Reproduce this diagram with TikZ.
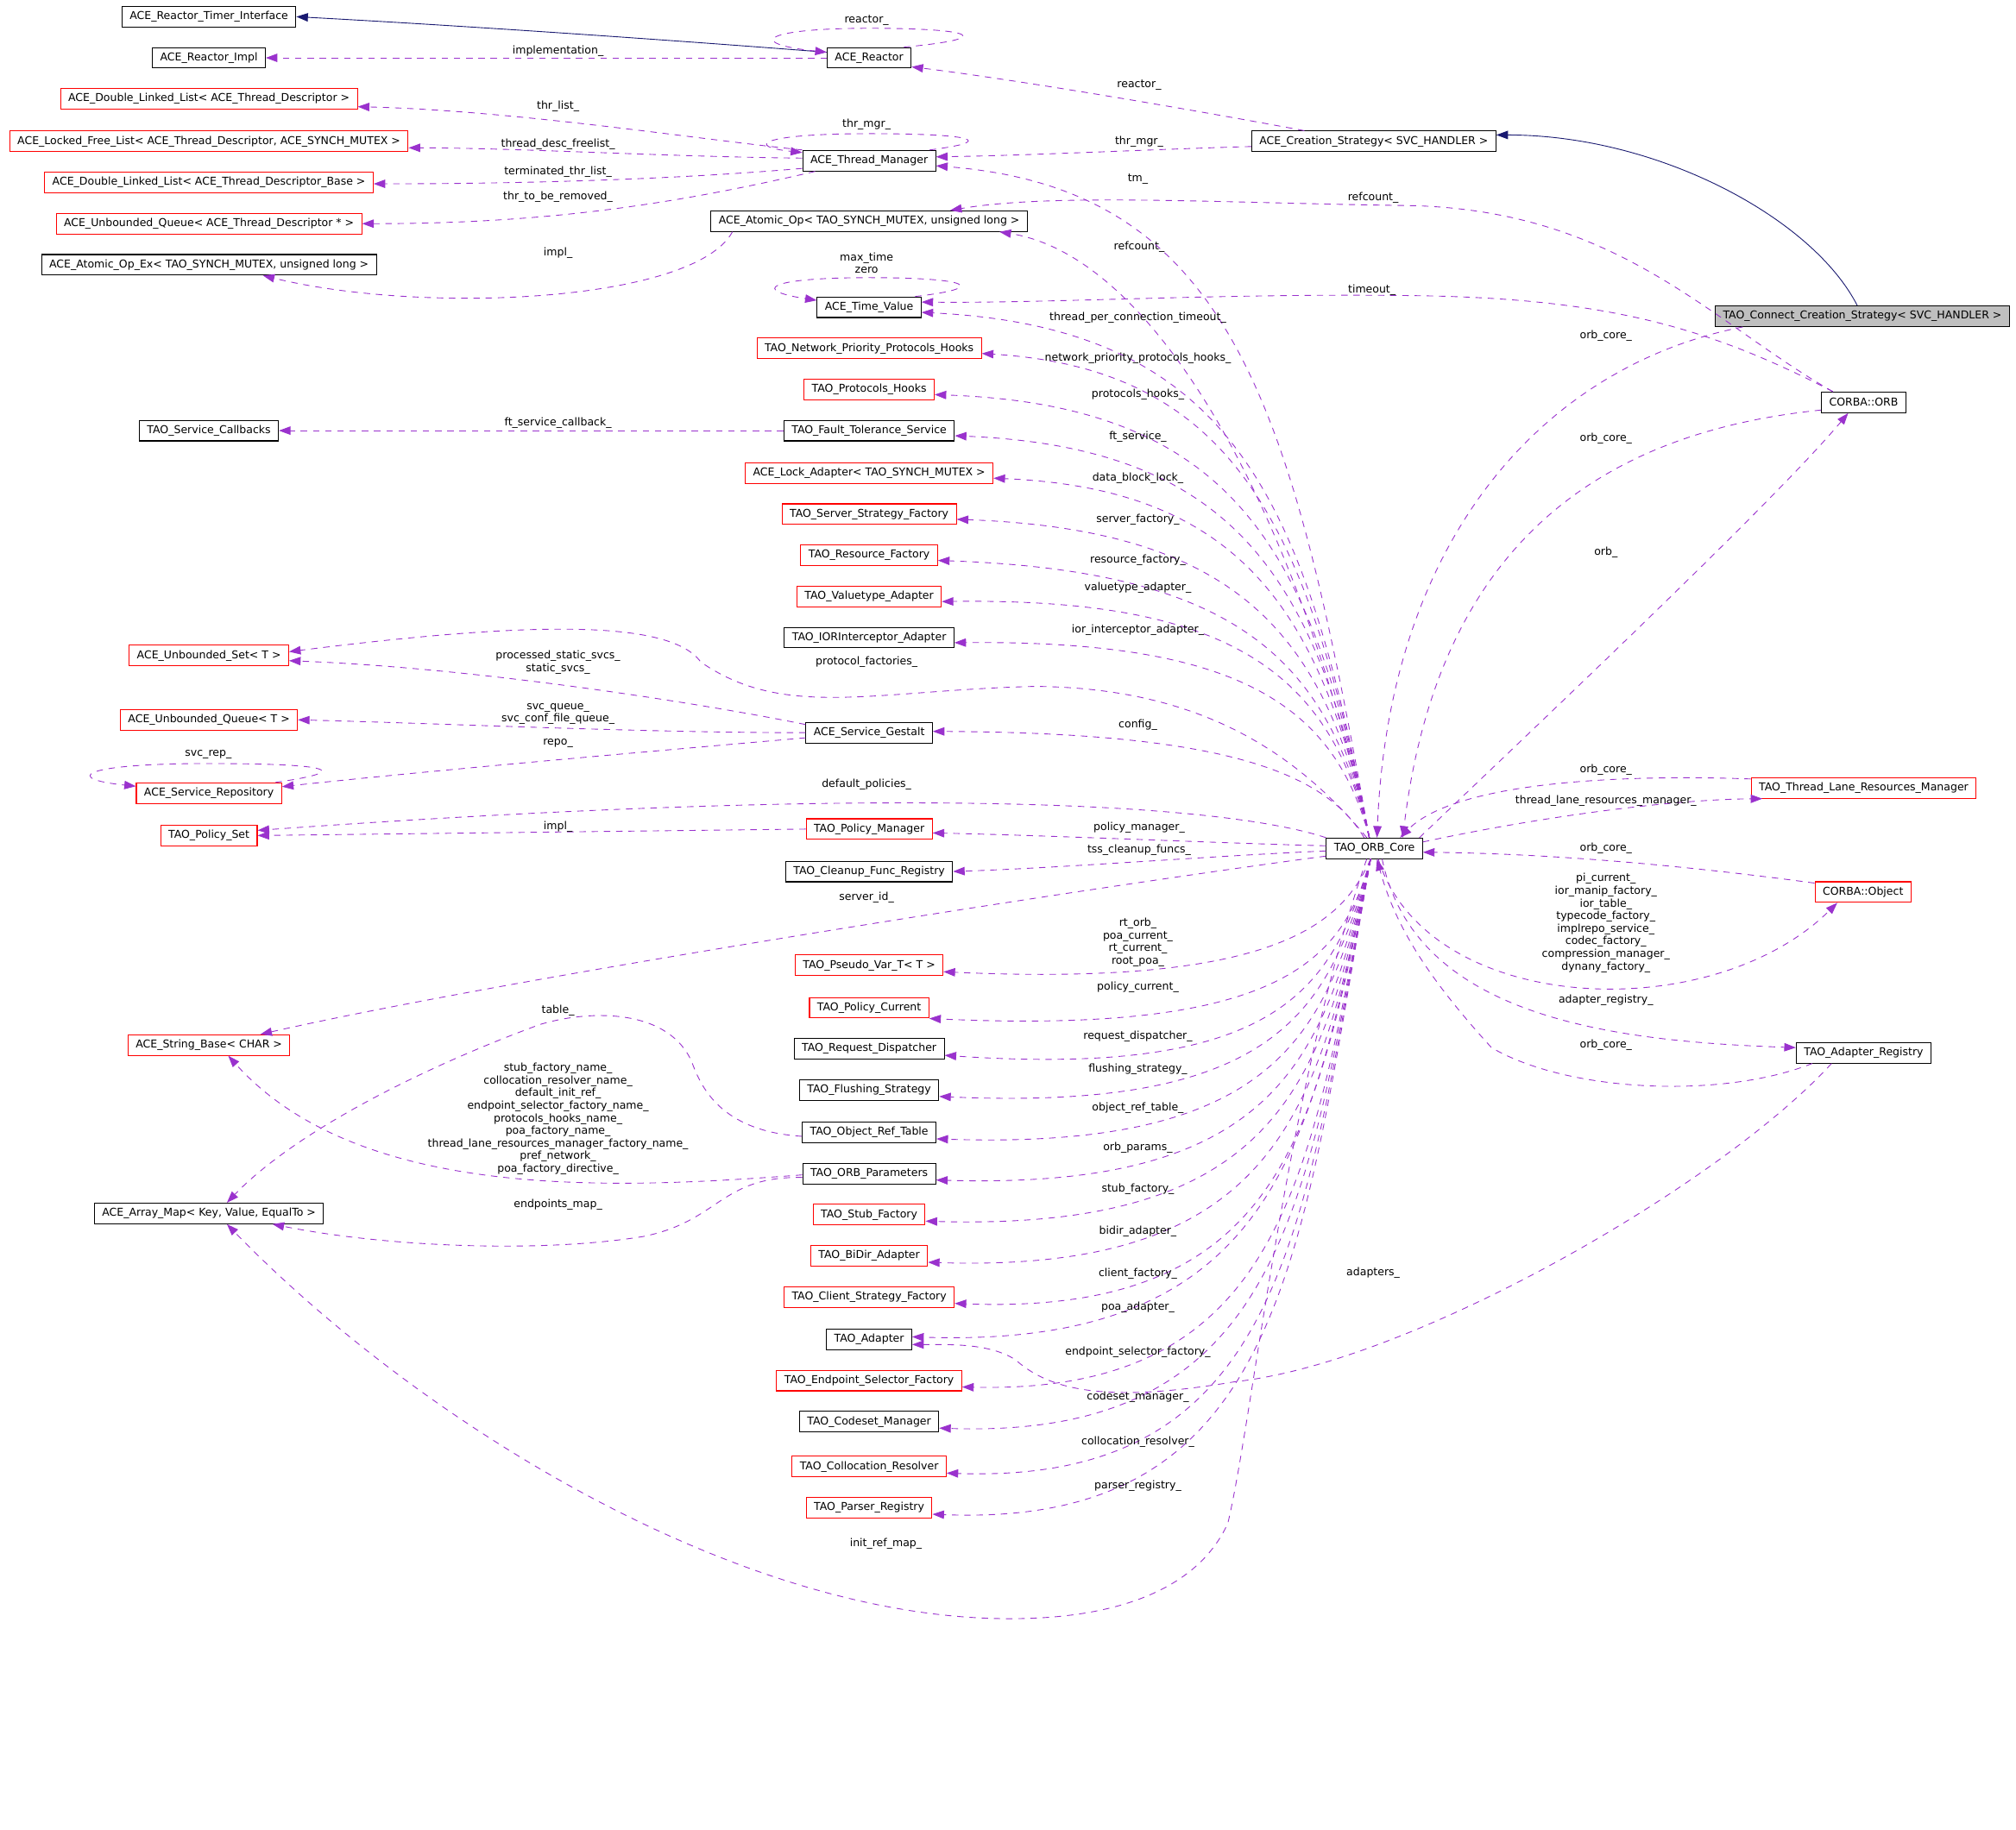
\documentclass[tikz,border=0pt]{standalone}
\usepackage{fontspec}
\setmainfont{DejaVu Sans}
\usepackage{tikz}
\usetikzlibrary{arrows.meta,positioning}
\definecolor{dgpurple}{HTML}{9A32CD}
\definecolor{dgblue}{HTML}{191970}
\definecolor{dggrey}{HTML}{BFBFBF}
\newcommand\dgfont{\fontsize{8.4pt}{9.8pt}\selectfont}
\tikzset{
  cls/.style={draw=black, line width=0.7pt, fill=white, font=\dgfont, inner xsep=6pt, inner ysep=0pt, minimum height=16pt},
  tpl/.style={cls, draw=red},
  root/.style={cls, fill=dggrey},
  mem/.style={draw=dgpurple, line width=0.6pt, dash pattern=on 5pt off 4.5pt, -{Triangle[length=9pt,width=6.5pt]}},
  inh/.style={draw=dgblue, line width=0.6pt, -{Triangle[length=9pt,width=6.5pt]}},
  lbl/.style={font=\dgfont, inner sep=0pt, align=center}
}

\begin{document}
\begin{tikzpicture}[x=1pt,y=-1pt]
\useasboundingbox (0,0) rectangle (1568,1423.6);
% left column
\node[cls] (rti)   at (162.5,13)  {ACE\_Reactor\_Timer\_Interface};
\node[cls] (rimpl) at (162.5,45)  {ACE\_Reactor\_Impl};
\node[tpl] (dll)   at (162.5,77)  {ACE\_Double\_Linked\_List< ACE\_Thread\_Descriptor >};
\node[tpl] (lfl)   at (162.5,110) {ACE\_Locked\_Free\_List< ACE\_Thread\_Descriptor, ACE\_SYNCH\_MUTEX >};
\node[tpl] (dllb)  at (162.5,142) {ACE\_Double\_Linked\_List< ACE\_Thread\_Descriptor\_Base >};
\node[tpl] (uqtd)  at (162.5,174) {ACE\_Unbounded\_Queue< ACE\_Thread\_Descriptor * >};
\node[cls] (aopex) at (162.5,206) {ACE\_Atomic\_Op\_Ex< TAO\_SYNCH\_MUTEX, unsigned long >};
\node[cls] (svccb) at (162.5,335) {TAO\_Service\_Callbacks};
\node[tpl] (uset)  at (162.5,510) {ACE\_Unbounded\_Set< T >};
\node[tpl] (uq)    at (162.5,560) {ACE\_Unbounded\_Queue< T >};
\node[tpl] (srep)  at (162.5,617) {ACE\_Service\_Repository};
\node[tpl] (pset)  at (162.5,650) {TAO\_Policy\_Set};
\node[tpl] (sbase) at (162.5,813) {ACE\_String\_Base< CHAR >};
\node[cls] (amap)  at (162.5,944) {ACE\_Array\_Map< Key, Value, EqualTo >};
% middle column
\node[cls] (reactor) at (676,45)   {ACE\_Reactor};
\node[cls] (thrmgr)  at (676,125)  {ACE\_Thread\_Manager};
\node[cls] (aop)     at (676,172)  {ACE\_Atomic\_Op< TAO\_SYNCH\_MUTEX, unsigned long >};
\node[cls] (tv)      at (676,239)  {ACE\_Time\_Value};
\node[tpl] (npph)    at (676,271)  {TAO\_Network\_Priority\_Protocols\_Hooks};
\node[tpl] (phooks)  at (676,303)  {TAO\_Protocols\_Hooks};
\node[cls] (fts)     at (676,335)  {TAO\_Fault\_Tolerance\_Service};
\node[tpl] (lockad)  at (676,368)  {ACE\_Lock\_Adapter< TAO\_SYNCH\_MUTEX >};
\node[tpl] (ssf)     at (676,400)  {TAO\_Server\_Strategy\_Factory};
\node[tpl] (rf)      at (676,432)  {TAO\_Resource\_Factory};
\node[tpl] (vta)     at (676,464)  {TAO\_Valuetype\_Adapter};
\node[cls] (iora)    at (676,496)  {TAO\_IORInterceptor\_Adapter};
\node[cls] (gestalt) at (676,570)  {ACE\_Service\_Gestalt};
\node[tpl] (pman)    at (676,645)  {TAO\_Policy\_Manager};
\node[cls] (cfr)     at (676,678)  {TAO\_Cleanup\_Func\_Registry};
\node[tpl] (pvar)    at (676,751)  {TAO\_Pseudo\_Var\_T< T >};
\node[tpl] (pcur)    at (676,784)  {TAO\_Policy\_Current};
\node[cls] (rdisp)   at (676,816)  {TAO\_Request\_Dispatcher};
\node[cls] (flush)   at (676,848)  {TAO\_Flushing\_Strategy};
\node[cls] (ort)     at (676,881)  {TAO\_Object\_Ref\_Table};
\node[cls] (params)  at (676,913)  {TAO\_ORB\_Parameters};
\node[tpl] (stubf)   at (676,945)  {TAO\_Stub\_Factory};
\node[tpl] (bidir)   at (676,977)  {TAO\_BiDir\_Adapter};
\node[tpl] (csf)     at (676,1009) {TAO\_Client\_Strategy\_Factory};
\node[cls] (adapter) at (676,1042) {TAO\_Adapter};
\node[tpl] (esf)     at (676,1074) {TAO\_Endpoint\_Selector\_Factory};
\node[cls] (codeset) at (676,1106) {TAO\_Codeset\_Manager};
\node[tpl] (colres)  at (676,1141) {TAO\_Collocation\_Resolver};
\node[tpl] (preg)    at (676,1173) {TAO\_Parser\_Registry};
% right side
\node[cls]  (ccs)  at (1068.5,110) {ACE\_Creation\_Strategy< SVC\_HANDLER >};
\node[root] (tcs)  at (1448.5,246) {TAO\_Connect\_Creation\_Strategy< SVC\_HANDLER >};
\node[cls]  (orb)  at (1449.5,313) {CORBA::ORB};
\node[cls]  (core) at (1069,660)   {TAO\_ORB\_Core};
\node[tpl]  (tlrm) at (1449.5,613) {TAO\_Thread\_Lane\_Resources\_Manager};
\node[tpl]  (cobj) at (1449,694)   {CORBA::Object};
\node[cls]  (areg) at (1449.5,819) {TAO\_Adapter\_Registry};

% inheritance
\draw[inh] ([yshift=-4pt]reactor.north west) .. controls (520,31) and (360,20) .. (rti.east);
\draw[inh] ([xshift=-4pt]tcs.north) .. controls (1410,170) and (1290,105) .. ([yshift=5pt]ccs.east);

% ACE_Reactor
\draw[mem] (reactor.west) -- (rimpl.east);
\node[lbl] (limpl) at (434,40) {implementation\_};
\draw[mem] ([xshift=-6pt]reactor.north east) .. controls (775,30) and (760,22) .. (676,22) .. controls (592,22) and (580,34) .. ([yshift=-4pt]reactor.north west);
\node[lbl] (lreac) at (674,16) {reactor\_};
\draw[mem] ([xshift=-54pt]ccs.north) .. controls (920,84) and (790,62) .. ([yshift=-7pt]reactor.east);
\node[lbl] (lreac2) at (886,66) {reactor\_};
\draw[mem] ([yshift=-4pt]ccs.west) .. controls (900,116) and (800,121) .. ([yshift=3pt]thrmgr.east);
\node[lbl] (lmgr2) at (886,110) {thr\_mgr\_};

% ACE_Thread_Manager
\draw[mem] ([xshift=-5pt]thrmgr.north east) .. controls (775,110) and (760,104) .. (676,104) .. controls (590,104) and (580,114) .. ([yshift=-2pt]thrmgr.north west);
\node[lbl] (lmgr) at (674,97) {thr\_mgr\_};
\draw[mem] (thrmgr.north west) .. controls (540,108) and (400,86) .. ([yshift=-6pt]dll.east);
\node[lbl] (lthr) at (434,83) {thr\_list\_};
\draw[mem] ([yshift=2pt]thrmgr.west) .. controls (520,122) and (400,115) .. ([yshift=-5pt]lfl.east);
\node[lbl] (lfree) at (434,112) {thread\_desc\_freelist\_};
\draw[mem] ([yshift=-6pt]thrmgr.west) .. controls (520,140) and (400,143) .. ([yshift=-1pt]dllb.east);
\node[lbl] (lterm) at (434,134) {terminated\_thr\_list\_};
\draw[mem] ([xshift=10pt]thrmgr.south west) .. controls (520,160) and (420,174) .. (uqtd.east);
\node[lbl] (lrem) at (434,153) {thr\_to\_be\_removed\_};

% ACE_Atomic_Op
\draw[mem] ([xshift=17pt]aop.south west) .. controls (540,235) and (330,245) .. ([xshift=42pt]aopex.south);
\node[lbl] (limpl2) at (434,197) {impl\_};

% ACE_Time_Value
\draw[mem] ([xshift=-5pt]tv.north east) .. controls (770,224) and (755,216) .. (676,216) .. controls (595,216) and (585,226) .. ([yshift=-3pt]tv.north west);
\node[lbl] (ltime) at (674,204.5) {max\_time\\zero};

% TAO_Fault_Tolerance_Service
\draw[mem] (fts.west) -- (svccb.east);
\node[lbl] (lftcb) at (434,329) {ft\_service\_callback\_};

% ACE_Service_Gestalt
\draw[mem] ([yshift=-2pt]gestalt.north west) .. controls (560,550) and (380,520) .. ([yshift=-4pt]uset.east);
\node[lbl] (lsvcs) at (434,515.5) {processed\_static\_svcs\_\\static\_svcs\_};
\draw[mem] (gestalt.west) .. controls (500,570) and (350,563) .. (uq.east);
\node[lbl] (lqueue) at (434,555.5) {svc\_queue\_\\svc\_conf\_file\_queue\_};
\draw[mem] ([yshift=-4pt]gestalt.west) .. controls (500,585) and (330,600) .. ([yshift=5pt]srep.east);
\node[lbl] (lrepo) at (434,578) {repo\_};
\draw[mem] ([xshift=-5pt]srep.north east) .. controls (275,600) and (260,594) .. (162,594) .. controls (60,594) and (50,606) .. ([yshift=-3pt]srep.north west);
\node[lbl] (lsvcrep) at (162,587) {svc\_rep\_};

% TAO_Policy_Manager
\draw[mem] (pman.west) -- (pset.east);
\node[lbl] (limpl3) at (434,643) {impl\_};

% TAO_Object_Ref_Table, TAO_ORB_Parameters
\draw[mem] ([yshift=-3pt]ort.west) .. controls (560,880) and (545,845) .. (538,826) .. controls (520,785) and (460,785) .. (420,797) .. controls (330,830) and (230,880) .. ([xshift=14pt]amap.north);
\node[lbl] (ltable) at (434,786) {table\_};
\draw[mem] ([yshift=-1pt]params.west) .. controls (480,925) and (280,935) .. ([xshift=15pt]sbase.south);
\node[lbl] (lnames) at (434,870.5) {stub\_factory\_name\_\\collocation\_resolver\_name\_\\default\_init\_ref\_\\endpoint\_selector\_factory\_name\_\\protocols\_hooks\_name\_\\poa\_factory\_name\_\\thread\_lane\_resources\_manager\_factory\_name\_\\pref\_network\_\\poa\_factory\_directive\_};
\draw[mem] ([yshift=-3pt]params.west) .. controls (560,915) and (560,950) .. (500,962) .. controls (420,975) and (300,970) .. ([xshift=-40pt]amap.south east);
\node[lbl] (lendp) at (434,937) {endpoints\_map\_};

% TAO_ORB_Core, upward fan
\draw[mem] ([xshift=-4pt]core.north) .. controls (1010,400) and (900,200) .. ([xshift=-22pt]aop.south east);
\node[lbl] (lref) at (886,192) {refcount\_};
\foreach \tg/\ly/\lab in {thrmgr/139/tm\_, tv/247/thread\_per\_connection\_timeout\_,
    npph/279/network\_priority\_protocols\_hooks\_, phooks/307/protocols\_hooks\_,
    fts/340/ft\_service\_, lockad/372/data\_block\_lock\_, ssf/404/server\_factory\_,
    rf/436/resource\_factory\_, vta/457/valuetype\_adapter\_, iora/490/ior\_interceptor\_adapter\_}
{
  \draw[mem] ([xshift=-4pt]core.north) .. controls ({1052-0.09*(652-\ly)},{\ly+0.35*(652-\ly)}) and (960,{\ly+8}) .. ([yshift=-4pt]\tg.east);
  \node[lbl] (l\tg) at (885,\ly) {\lab};
}
\draw[mem] ([xshift=-8pt]core.north) .. controls (1030,600) and (950,570) .. ([yshift=1pt]gestalt.east);
\node[lbl] (lconfig) at (885,564) {config\_};
\draw[mem] ([xshift=-6pt]core.north) .. controls (1000,575) and (920,535) .. (805,534) .. controls (680,537) and (610,560) .. (545,515) .. controls (520,480) and (400,485) .. ([yshift=3pt]uset.east);
\node[lbl] (lprot) at (674,515) {protocol\_factories\_};

% TAO_ORB_Core, to the left
\draw[mem] (core.north west) .. controls (950,625) and (700,610) .. ([yshift=4pt]pset.east);
\node[lbl] (ldefpol) at (674,610) {default\_policies\_};
\draw[mem] ([yshift=2pt]core.west) .. controls (950,656) and (820,650) .. ([yshift=-3pt]pman.east);
\node[lbl] (lpman) at (886,644) {policy\_manager\_};
\draw[mem] ([yshift=-2pt]core.west) .. controls (940,666) and (830,675) .. (cfr.east);
\node[lbl] (ltss) at (886,661) {tss\_cleanup\_funcs\_};
\draw[mem] ([yshift=-6pt]core.west) .. controls (850,690) and (400,760) .. ([xshift=40pt]sbase.north);
\node[lbl] (lsrv) at (674,698) {server\_id\_};

% TAO_ORB_Core, downward fan
\draw[mem] ([xshift=-3pt]core.south) .. controls (1045,715) and (1000,768) .. ([yshift=-5pt]pvar.east);
\node[lbl] (lpvar) at (885,733) {rt\_orb\_\\poa\_current\_\\rt\_current\_\\root\_poa\_};
\draw[mem] ([xshift=-3pt]core.south) .. controls (1045,745) and (1000,805) .. (pcur.south east);
\node[lbl] (lpcur) at (885,768) {policy\_current\_};
\foreach \tg/\ly/\lab in {rdisp/806/request\_dispatcher\_,
    flush/832/flushing\_strategy\_, ort/862/object\_ref\_table\_, params/893/orb\_params\_,
    stubf/925/stub\_factory\_, bidir/958/bidir\_adapter\_, csf/991/client\_factory\_,
    esf/1052/endpoint\_selector\_factory\_, codeset/1087/codeset\_manager\_,
    colres/1122/collocation\_resolver\_, preg/1156/parser\_registry\_}
{
  \draw[mem] ([xshift=-3pt]core.south) .. controls ({1048-0.07*(\ly-644)},{668+0.6*(\ly-644)}) and (1000,{\ly+33}) .. ([yshift=-5pt]\tg.east);
  \node[lbl] (l\tg) at (885,\ly) {\lab};
}
\draw[mem] ([xshift=-3pt]core.south) .. controls (1020,880) and (1000,1050) .. ([yshift=2pt]adapter.east);
\node[lbl] (lpoa) at (885,1017) {poa\_adapter\_};
\draw[mem] ([xshift=-6pt]core.south) .. controls (1000,850) and (975,1100) .. (955,1185) .. controls (930,1240) and (860,1262) .. (770,1259) .. controls (560,1252) and (320,1100) .. ([xshift=14pt]amap.south);
\node[lbl] (linit) at (689,1201) {init\_ref\_map\_};

% CORBA::ORB and TAO_Connect_Creation_Strategy
\draw[mem] ([xshift=-24pt]orb.north) .. controls (1330,250) and (1260,165) .. (1100,160) .. controls (950,158) and (820,150) .. ([xshift=63pt]aop.north);
\node[lbl] (lref2) at (1068,154) {refcount\_};
\draw[mem] ([xshift=-24pt]orb.north) .. controls (1330,255) and (1250,232) .. (1100,230) .. controls (950,228) and (820,236) .. ([yshift=4pt]tv.east);
\node[lbl] (ltimeout) at (1067,226) {timeout\_};
\draw[mem] ([xshift=-93pt]tcs.south) .. controls (1200,285) and (1080,420) .. ([xshift=2pt]core.north);
\node[lbl] (lcore1) at (1249,261) {orb\_core\_};
\draw[mem] ([yshift=-6pt]orb.west) .. controls (1260,335) and (1120,410) .. ([xshift=22pt]core.north);
\node[lbl] (lcore2) at (1249,341) {orb\_core\_};
\draw[mem] ([xshift=35pt]core.north) .. controls (1200,560) and (1380,390) .. ([xshift=-12pt]orb.south);
\node[lbl] (lorb) at (1249,430) {orb\_};

% right hand nodes
\draw[mem] ([yshift=7pt]tlrm.west) .. controls (1250,602) and (1130,610) .. ([xshift=20pt]core.north);
\node[lbl] (lcore3) at (1249,599) {orb\_core\_};
\draw[mem] ([yshift=5pt]core.east) .. controls (1200,635) and (1300,622) .. ([xshift=9pt]tlrm.south west);
\node[lbl] (ltlrm) at (1249,623) {thread\_lane\_resources\_manager\_};
\draw[mem] ([yshift=7pt]cobj.west) .. controls (1300,672) and (1200,664) .. ([yshift=-3pt]core.east);
\node[lbl] (lcore4) at (1249,660) {orb\_core\_};
\draw[mem] ([xshift=3pt]core.south) .. controls (1110,790) and (1330,800) .. ([xshift=-20pt]cobj.south);
\node[lbl] (lobj) at (1249,718) {pi\_current\_\\ior\_manip\_factory\_\\ior\_table\_\\typecode\_factory\_\\implrepo\_service\_\\codec\_factory\_\\compression\_manager\_\\dynany\_factory\_};
\draw[mem] ([xshift=6pt]core.south) .. controls (1100,790) and (1250,810) .. ([yshift=4pt]areg.west);
\node[lbl] (lareg) at (1249,778) {adapter\_registry\_};
\draw[mem] ([xshift=-40pt]areg.south) .. controls (1340,855) and (1220,850) .. (1160,815) .. controls (1110,760) and (1085,720) .. ([xshift=2pt]core.south);
\node[lbl] (lcore5) at (1249,813) {orb\_core\_};
\draw[mem] ([xshift=-25pt]areg.south) .. controls (1340,920) and (1100,1060) .. (960,1075) .. controls (870,1090) and (820,1085) .. (790,1058) .. controls (770,1045) and (740,1046) .. ([yshift=-4pt]adapter.east);
\node[lbl] (ladapt) at (1068,990) {adapters\_};
\end{tikzpicture}
\end{document}
